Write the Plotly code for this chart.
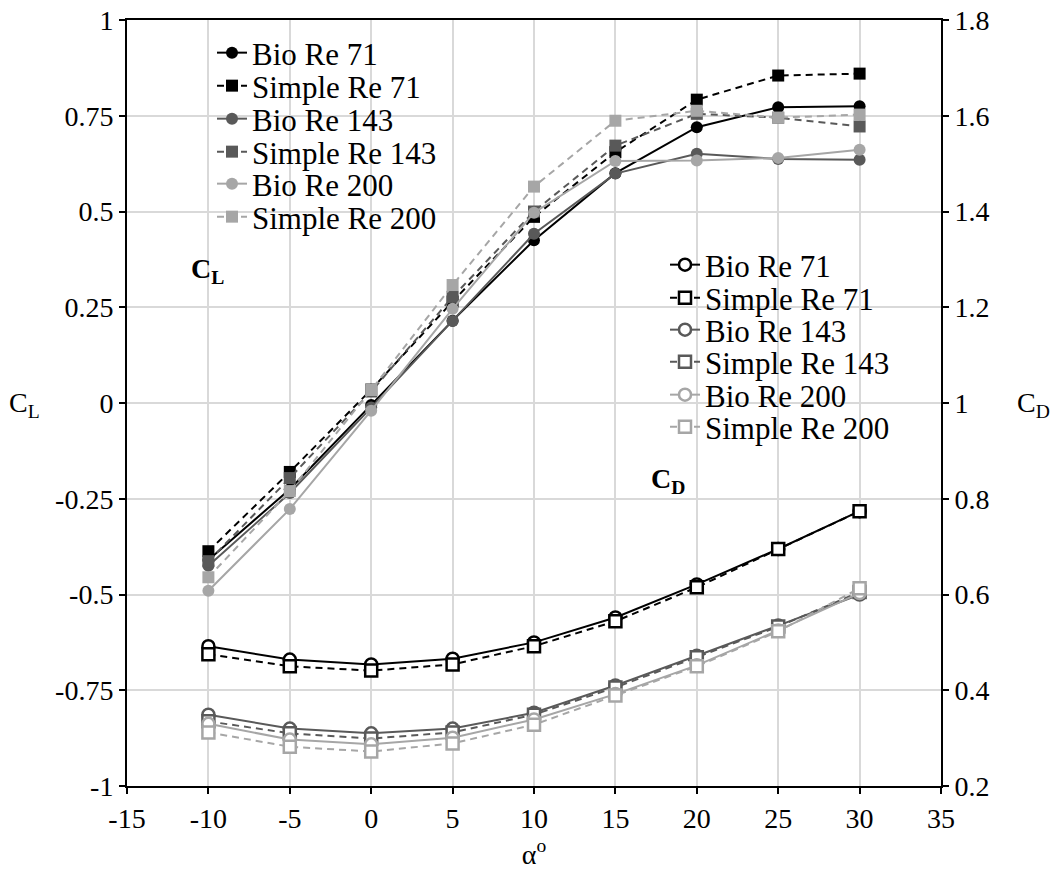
import plotly.graph_objects as go

# ---------------- data ----------------
alpha = [-10, -5, 0, 5, 10, 15, 20, 25, 30]

cl_bio_71 = [-0.41, -0.225, -0.005, 0.215, 0.425, 0.60, 0.72, 0.772, 0.775]
cl_simple_71 = [-0.387, -0.18, 0.035, 0.265, 0.486, 0.655, 0.792, 0.855, 0.86]
cl_bio_143 = [-0.425, -0.235, -0.012, 0.214, 0.442, 0.599, 0.651, 0.637, 0.635]
cl_simple_143 = [-0.413, -0.196, 0.03, 0.277, 0.50, 0.672, 0.755, 0.745, 0.722]
cl_bio_200 = [-0.49, -0.277, -0.02, 0.246, 0.497, 0.632, 0.633, 0.64, 0.661]
cl_simple_200 = [-0.455, -0.23, 0.034, 0.308, 0.565, 0.737, 0.763, 0.745, 0.753]

cd_bio_71 = [0.492, 0.464, 0.454, 0.466, 0.50, 0.552, 0.621, 0.695, 0.774]
cd_simple_71 = [0.475, 0.45, 0.441, 0.454, 0.492, 0.544, 0.615, 0.695, 0.774]
cd_bio_143 = [0.349, 0.32, 0.31, 0.32, 0.353, 0.41, 0.472, 0.535, 0.60]
cd_simple_143 = [0.335, 0.31, 0.299, 0.312, 0.349, 0.406, 0.469, 0.533, 0.605]
cd_bio_200 = [0.33, 0.297, 0.287, 0.301, 0.339, 0.392, 0.452, 0.525, 0.603]
cd_simple_200 = [0.312, 0.282, 0.272, 0.289, 0.328, 0.389, 0.45, 0.523, 0.613]

series_names = ["Bio Re 71", "Simple Re 71", "Bio Re 143", "Simple Re 143", "Bio Re 200", "Simple Re 200"]

x_ticks = [-15, -10, -5, 0, 5, 10, 15, 20, 25, 30, 35]
x_ticktext = ["-15", "-10", "-5", "0", "5", "10", "15", "20", "25", "30", "35"]
cl_ticks = [-1, -0.75, -0.5, -0.25, 0, 0.25, 0.5, 0.75, 1]
cl_ticktext = ["-1", "-0.75", "-0.5", "-0.25", "0", "0.25", "0.5", "0.75", "1"]
cd_ticks = [0.2, 0.4, 0.6, 0.8, 1.0, 1.2, 1.4, 1.6, 1.8]
cd_ticktext = ["0.2", "0.4", "0.6", "0.8", "1", "1.2", "1.4", "1.6", "1.8"]

# ---------------- styles ----------------
BLACK = "#000000"
DARK = "#595959"
LIGHT = "#a6a6a6"
FONT = "Liberation Serif, Times New Roman, serif"

colors = [BLACK, BLACK, DARK, DARK, LIGHT, LIGHT]
dashes = ["solid", "7px,5px", "solid", "7px,5px", "solid", "7px,5px"]
symbols = ["circle", "square", "circle", "square", "circle", "square"]

cl_data = [cl_bio_71, cl_simple_71, cl_bio_143, cl_simple_143, cl_bio_200, cl_simple_200]
cd_data = [cd_bio_71, cd_simple_71, cd_bio_143, cd_simple_143, cd_bio_200, cd_simple_200]

# body margin is removed (post_script), so the figure sits at (0, 0)
OFF = 0
W, H = 1055 - OFF, 882 - OFF
# plot area in screen px: left 127, right 941, top 20, bottom 786
L, T = 127 - OFF, 20 - OFF
R = W - (941 - OFF)
B = H - (786 - OFF)
PW = W - L - R
PH = H - T - B


def px_to_paper(sx, sy):
    fx, fy = sx - OFF, sy - OFF
    return (fx - L) / PW, (H - B - fy) / PH


fig = go.Figure()

leg_layout = {}
cl_rows = [53, 86, 119, 152, 184, 217]
cd_rows = [265, 298, 330, 362, 395, 427]
LEG_FONT = 31

for i in range(6):
    lname = "legend" if i == 0 else f"legend{i + 1}"
    fig.add_trace(go.Scatter(
        x=alpha, y=cl_data[i], name=series_names[i], mode="lines+markers",
        line=dict(color=colors[i], width=2, dash=dashes[i]),
        marker=dict(symbol=symbols[i], size=12, color=colors[i]),
        yaxis="y", legend=lname,
    ))
    lx, ly = px_to_paper(212, cl_rows[i])
    leg_layout[lname] = dict(x=lx, y=ly, xanchor="left", yanchor="middle",
                             bgcolor="rgba(0,0,0,0)", borderwidth=0,
                             font=dict(family=FONT, size=LEG_FONT, color=BLACK),
                             itemwidth=30, tracegroupgap=0)

for i in range(6):
    lname = f"legend{i + 7}"
    fig.add_trace(go.Scatter(
        x=alpha, y=cd_data[i], name=series_names[i], mode="lines+markers",
        line=dict(color=colors[i], width=2, dash=dashes[i]),
        marker=dict(symbol=symbols[i], size=12, color="white",
                    line=dict(color=colors[i], width=2.5)),
        yaxis="y2", legend=lname,
    ))
    lx, ly = px_to_paper(665, cd_rows[i])
    leg_layout[lname] = dict(x=lx, y=ly, xanchor="left", yanchor="middle",
                             bgcolor="rgba(0,0,0,0)", borderwidth=0,
                             font=dict(family=FONT, size=LEG_FONT, color=BLACK),
                             itemwidth=30, tracegroupgap=0)

axis_common = dict(
    showline=True, linecolor=BLACK, linewidth=2,
    ticks="outside", ticklen=6, tickwidth=1.5, tickcolor=BLACK,
    tickfont=dict(family=FONT, size=28, color=BLACK),
    zeroline=False, automargin=False, ticklabeloverflow="allow",
)

fig.update_layout(
    width=W, height=H,
    margin=dict(l=L, r=R, t=T, b=B, autoexpand=False),
    paper_bgcolor="white", plot_bgcolor="white",
    showlegend=True,
    font=dict(family=FONT, size=28, color=BLACK),
    xaxis=dict(range=[-15, 35], tickvals=x_ticks, ticktext=x_ticktext,
               showgrid=True, gridcolor="#d9d9d9", gridwidth=2, mirror=True,
               title=dict(text="α<sup>o</sup>", font=dict(family=FONT, size=28), standoff=12),
               **axis_common),
    yaxis=dict(range=[-1, 1], tickvals=cl_ticks, ticktext=cl_ticktext,
               showgrid=True, gridcolor="#d9d9d9", gridwidth=2,
               **axis_common),
    yaxis2=dict(range=[0.2, 1.8], tickvals=cd_ticks, ticktext=cd_ticktext,
                overlaying="y", side="right", showgrid=False,
                **axis_common),
    **leg_layout,
)

# white boxes behind the two legend blocks (hide gridlines like the reference)
for (x0p, y0p, x1p, y1p) in [(168, 34, 445, 236), (622, 247, 900, 445)]:
    a0, b0 = px_to_paper(x0p, y1p)
    a1, b1 = px_to_paper(x1p, y0p)
    fig.add_shape(type="rect", xref="paper", yref="paper", x0=a0, y0=b0, x1=a1, y1=b1,
                  fillcolor="white", line=dict(width=0), layer="between")

ann_font = dict(family=FONT, size=28, color=BLACK)
fig.add_annotation(text="C<sub>L</sub>", xref="paper", yref="paper",
                   x=px_to_paper(24, 404)[0], y=px_to_paper(24, 404)[1],
                   showarrow=False, font=ann_font, xanchor="center", yanchor="middle")
fig.add_annotation(text="C<sub>D</sub>", xref="paper", yref="paper",
                   x=px_to_paper(1052, 404)[0], y=px_to_paper(1052, 404)[1],
                   showarrow=False, font=ann_font, xanchor="right", yanchor="middle")
fig.add_annotation(text="<b>C<sub>L</sub></b>", xref="paper", yref="paper",
                   x=px_to_paper(207, 270)[0], y=px_to_paper(207, 270)[1],
                   showarrow=False, font=ann_font, xanchor="center", yanchor="middle")
fig.add_annotation(text="<b>C<sub>D</sub></b>", xref="paper", yref="paper",
                   x=px_to_paper(668, 480)[0], y=px_to_paper(668, 480)[1],
                   showarrow=False, font=ann_font, xanchor="center", yanchor="middle")

fig.write_html("out.html", config={"displayModeBar": False},
               post_script="document.body.style.margin='0';")
